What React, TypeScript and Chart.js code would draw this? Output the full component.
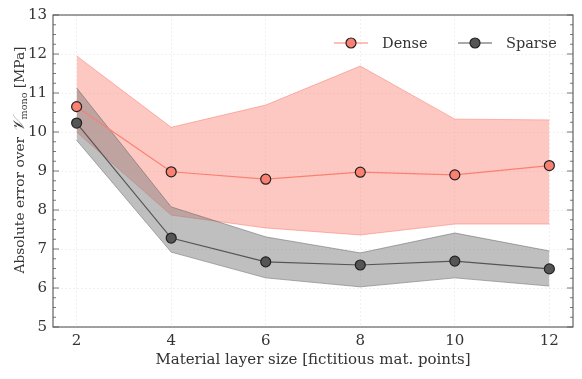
import React, { useEffect, useRef } from "react";
import { Chart, registerables } from "chart.js";

Chart.register(...registerables);

const layerSizes = [2, 4, 6, 8, 10, 12];
const denseMean = [10.65, 8.98, 8.79, 8.97, 8.9, 9.14];
const denseUpper = [11.95, 10.12, 10.69, 11.69, 10.33, 10.31];
const denseLower = [10.0, 7.87, 7.54, 7.36, 7.64, 7.64];
const sparseMean = [10.23, 7.28, 6.67, 6.59, 6.69, 6.49];
const sparseUpper = [11.13, 8.08, 7.31, 6.9, 7.41, 6.95];
const sparseLower = [9.79, 6.92, 6.26, 6.03, 6.26, 6.05];
const xTicks = [2, 4, 6, 8, 10, 12];
const yTicks = [5, 6, 7, 8, 9, 10, 11, 12, 13];
const seriesNames = ["Dense", "Sparse"];
const xTitle = "Material layer size [fictitious mat. points]";
const yTitleParts = ["Absolute error over ", "\u{1D4B1}", "mono", " [MPa]"];

const FONT = "'DejaVu Serif', 'Liberation Serif', serif";
const DENSE = "#fa8072";
const SPARSE = "#555555";
const FRAME = "#555555";

function pts(vals: number[]) {
  return layerSizes.map((x, i) => ({ x, y: vals[i] }));
}

const overlay = {
  id: "overlay",
  afterDraw(chart: any) {
    const ctx = chart.ctx as CanvasRenderingContext2D;
    const a = chart.chartArea;
    const ys = chart.scales.y;
    ctx.save();
    // frame
    ctx.strokeStyle = FRAME;
    ctx.lineWidth = 1.1;
    ctx.strokeRect(a.left, a.top, a.right - a.left, a.bottom - a.top);
    // y ticks inward both sides
    ctx.lineWidth = 0.8;
    for (let v = yTicks[0]; v <= yTicks[yTicks.length - 1] + 1e-9; v += 0.25) {
      const y = ys.getPixelForValue(v);
      const major = Math.abs(v - Math.round(v)) < 1e-6;
      const len = major ? 6 : 3;
      ctx.beginPath();
      ctx.moveTo(a.left, y);
      ctx.lineTo(a.left + len, y);
      ctx.moveTo(a.right, y);
      ctx.lineTo(a.right - len, y);
      ctx.stroke();
    }
    // x title
    ctx.fillStyle = "#333";
    ctx.font = `15px ${FONT}`;
    ctx.textAlign = "center";
    ctx.textBaseline = "middle";
    ctx.fillText(xTitle, (a.left + a.right) / 2, 360);
    // y title (rotated, composite with subscript), fitted to target length
    const target = 227;
    const measure = (s: number) => {
      ctx.font = `${s}px ${FONT}`;
      const w0 = ctx.measureText(yTitleParts[0]).width;
      const w3 = ctx.measureText(yTitleParts[3]).width;
      ctx.font = `italic ${s * 1.15}px ${FONT}`;
      const w1 = ctx.measureText(yTitleParts[1]).width;
      ctx.font = `${s * 0.7}px ${FONT}`;
      const w2 = ctx.measureText(yTitleParts[2]).width;
      return [w0, w1, w2, w3];
    };
    let size = 15;
    const t0 = measure(size).reduce((p, c) => p + c, 0);
    size = Math.min(16, (size * target) / t0);
    const [w0, w1, w2, w3] = measure(size);
    const total = w0 + w1 + w2 + w3;
    ctx.translate(18, 160);
    ctx.rotate(-Math.PI / 2);
    ctx.textAlign = "left";
    ctx.textBaseline = "alphabetic";
    let cx = -total / 2;
    const base = 5.5;
    ctx.font = `${size}px ${FONT}`;
    ctx.fillText(yTitleParts[0], cx, base);
    cx += w0;
    ctx.font = `italic ${size * 1.15}px ${FONT}`;
    ctx.fillText(yTitleParts[1], cx, base);
    cx += w1;
    ctx.font = `${size * 0.7}px ${FONT}`;
    ctx.fillText(yTitleParts[2], cx, base + 3.5);
    cx += w2;
    ctx.font = `${size}px ${FONT}`;
    ctx.fillText(yTitleParts[3], cx, base);
    ctx.restore();

    // legend
    ctx.save();
    const items = [
      { name: seriesNames[0], color: DENSE, x0: 334 },
      { name: seriesNames[1], color: SPARSE, x0: 458 },
    ];
    const ly = 43;
    for (const it of items) {
      ctx.strokeStyle = it.color;
      ctx.lineWidth = 1.2;
      ctx.beginPath();
      ctx.moveTo(it.x0, ly);
      ctx.lineTo(it.x0 + 34, ly);
      ctx.stroke();
      ctx.beginPath();
      ctx.arc(it.x0 + 17, ly, 5, 0, Math.PI * 2);
      ctx.fillStyle = it.color;
      ctx.fill();
      ctx.strokeStyle = "#222";
      ctx.lineWidth = 1.2;
      ctx.stroke();
      ctx.fillStyle = "#333";
      ctx.font = `14.5px ${FONT}`;
      ctx.textAlign = "left";
      ctx.textBaseline = "middle";
      ctx.fillText(it.name, it.x0 + 48, ly + 1);
    }
    ctx.restore();
  },
};

export default function App() {
  const ref = useRef<HTMLCanvasElement | null>(null);
  useEffect(() => {
    document.body.style.margin = "0";
    const canvas = ref.current!;
    const chart = new Chart(canvas, {
      type: "line",
      data: {
        datasets: [
          {
            label: "Dense upper",
            data: pts(denseUpper),
            borderColor: "rgba(250,128,114,0.55)",
            borderWidth: 1,
            backgroundColor: "rgba(250,128,114,0.43)",
            pointRadius: 0,
            fill: "+1",
            order: 10,
          },
          {
            label: "Dense lower",
            data: pts(denseLower),
            borderColor: "rgba(250,128,114,0.55)",
            borderWidth: 1,
            pointRadius: 0,
            fill: false,
            order: 11,
          },
          {
            label: "Sparse upper",
            data: pts(sparseUpper),
            borderColor: "rgba(90,90,90,0.5)",
            borderWidth: 1,
            backgroundColor: "rgba(128,128,128,0.5)",
            pointRadius: 0,
            fill: "+1",
            order: 6,
          },
          {
            label: "Sparse lower",
            data: pts(sparseLower),
            borderColor: "rgba(90,90,90,0.5)",
            borderWidth: 1,
            pointRadius: 0,
            fill: false,
            order: 7,
          },
          {
            label: seriesNames[0],
            data: pts(denseMean),
            borderColor: DENSE,
            borderWidth: 1.2,
            pointRadius: 5,
            pointBackgroundColor: DENSE,
            pointBorderColor: "#222",
            pointBorderWidth: 1.2,
            fill: false,
            order: 1,
          },
          {
            label: seriesNames[1],
            data: pts(sparseMean),
            borderColor: SPARSE,
            borderWidth: 1.2,
            pointRadius: 5,
            pointBackgroundColor: SPARSE,
            pointBorderColor: "#222",
            pointBorderWidth: 1.2,
            fill: false,
            order: 2,
          },
        ],
      },
      options: {
        animation: false,
        responsive: false,
        devicePixelRatio: 1,
        layout: { padding: { top: 15, right: 9, left: 0, bottom: 0 } },
        plugins: { legend: { display: false }, tooltip: { enabled: false } },
        scales: {
          x: {
            type: "linear",
            min: 1.5,
            max: 12.5,
            afterBuildTicks: (s: any) => {
              s.ticks = xTicks.map((v) => ({ value: v }));
            },
            afterFit: (s: any) => {
              s.height = 52;
            },
            grid: { color: "#ececec", lineWidth: 0.8, drawTicks: false },
            border: { display: false, dash: [2, 2] },
            ticks: {
              color: "#333",
              font: { family: FONT, size: 15 },
              padding: 5,
              maxRotation: 0,
              autoSkip: false,
            },
          },
          y: {
            type: "linear",
            min: 5,
            max: 13,
            afterBuildTicks: (s: any) => {
              s.ticks = yTicks.map((v) => ({ value: v }));
            },
            afterFit: (s: any) => {
              s.width = 53;
            },
            grid: { color: "#ececec", lineWidth: 0.8, drawTicks: false },
            border: { display: false, dash: [2, 2] },
            ticks: {
              color: "#333",
              font: { family: FONT, size: 15 },
              padding: 6,
              autoSkip: false,
            },
          },
        },
      },
      plugins: [overlay],
    } as any);
    return () => chart.destroy();
  }, []);
  return <canvas ref={ref} width={582} height={379} style={{ display: "block" }} />;
}
